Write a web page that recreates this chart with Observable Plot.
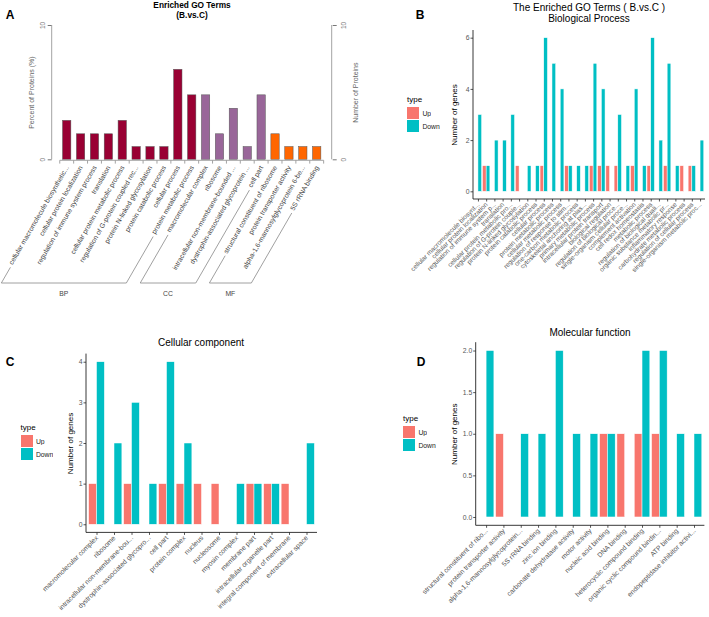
<!DOCTYPE html>
<html><head><meta charset="utf-8">
<script src="https://cdn.jsdelivr.net/npm/d3@7"></script>
<script src="https://cdn.jsdelivr.net/npm/@observablehq/plot@0.6"></script>
<style>
body{margin:0;background:#fff;}
#fig{position:relative;width:709px;height:617px;overflow:hidden;font-family:"Liberation Sans",Arial,Helvetica,sans-serif;}
.txt{position:absolute;transform:translate(-50%,-50%);white-space:nowrap;line-height:1;}
svg{overflow:visible;}
</style></head><body><div id="fig"></div>
<script>
// ---------- DATA ----------
const aTitle = ["Enriched GO Terms", "(B.vs.C)"];
const aTerms = [
  "cellular macromolecule biosynthetic...", "cellular protein localization",
  "regulation of immune system process", "translation",
  "cellular protein metabolic process", "regulation of G-protein coupled rec...",
  "protein N-linked glycosylation", "protein catabolic process",
  "cellular process", "protein metabolic process",
  "macromolecular complex", "ribosome", "intracellular non-membrane-bounded ...",
  "dystrophin-associated glycoprotein ...", "cell part",
  "structural constituent of ribosome", "protein transporter activity",
  "alpha-1,6-mannosylglycoprotein 6-be...", "5S rRNA binding"];
const aGroups = ["BP","BP","BP","BP","BP","BP","BP","BP","BP","BP","CC","CC","CC","CC","CC","MF","MF","MF","MF"];
const aPercent = [2.9,1.9,1.9,1.9,2.9,0.95,0.95,0.95,6.7,4.8, 4.8,1.9,3.8,0.95,4.8, 1.9,0.95,0.95,0.95];
const aGroupNames = ["BP","CC","MF"];
const aGroupColors = ["#990033","#996699","#FF6600"];
const aTicks = [0,10];
const aLeftLabel = "Percent of Proteins (%)";
const aRightLabel = "Number of Proteins";

const types = ["Up","Down"];
const typeColors = ["#F8766D","#00BFC4"];
const legendTitle = "type";
const yTitle = "Number of genes";

const bTitle = ["The Enriched GO Terms ( B.vs.C )", "Biological Process"];
const bTerms = [
  "cellular macromolecule biosynt...", "cellular protein localization", "regulation of immune system p...",
  "translation", "cellular protein metabolic pro...", "regulation of G-protein couple...",
  "protein N-linked glycosylation", "protein catabolic process", "cellular process",
  "protein metabolic process", "cellular metabolic process", "regulation of response to stim...",
  "one-carbon metabolic process", "cytoskeletal anchoring at plas...", "primary metabolic process",
  "intracellular protein transport", "biological regulation", "regulation of biological proce...",
  "single-organism cellular proce...", "complement activation", "cell redox homeostasis",
  "metabolic process", "regulation of biological quali...", "organic substance metabolic pr...",
  "inflammatory response", "carbohydrate metabolic process", "regulation of cellular process",
  "single-organism metabolic proc..."];
const bUp   = [0,1,0,0,0,1,0,0,1,0,0,1,0,0,1,1,1,1,0,1,0,1,0,1,0,1,1,0];
const bDown = [3,1,2,2,3,0,1,1,6,5,4,1,1,1,5,4,0,3,1,4,1,6,2,5,1,0,1,2];
const bTicks = [0,2,4,6];

const cTitle = "Cellular component";
const cTerms = ["macromolecular complex","ribosome","intracellular non-membrane-bou...",
  "dystrophin-associated glycopro...","cell part","protein complex","nucleus","nucleosome",
  "myosin complex","membrane part","intracellular organelle part",
  "integral component of membrane","extracellular space"];
const cUp   = [1,0,1,0,1,1,1,1,0,1,1,1,0];
const cDown = [4,2,3,1,4,2,0,0,1,1,1,0,2];
const cTicks = [0,1,2,3,4];

const dTitle = "Molecular function";
const dTerms = ["structural constituent of ribo...","protein transporter activity",
  "alpha-1,6-mannosylglycoprotein...","5S rRNA binding","zinc ion binding",
  "carbonate dehydratase activity","motor activity","nucleic acid binding","DNA binding",
  "heterocyclic compound binding","organic cyclic compound bindin...","ATP binding",
  "endopeptidase inhibitor activi..."];
const dUp   = [0,1,0,0,0,0,0,1,1,1,1,0,0];
const dDown = [2,0,1,1,2,1,1,1,0,2,2,1,1];
const dTicks = [0,0.5,1,1.5,2];

// ---------- HELPERS ----------
const FONT = '"Liberation Sans", Arial, Helvetica, sans-serif';
const fig = document.getElementById("fig");

function addText(str, x, y, size, weight, color) {
  const d = document.createElement("div");
  d.className = "txt";
  d.textContent = str;
  d.style.left = x + "px"; d.style.top = y + "px";
  d.style.fontSize = size + "px"; d.style.fontWeight = weight; d.style.color = color;
  fig.appendChild(d);
}
function place(el, left, top, w) {
  const d = document.createElement("div");
  d.style.cssText = `position:absolute;left:${left}px;top:${top}px;width:${w}px;`;
  d.appendChild(el);
  fig.appendChild(d);
}
function addLegend(left, top) {
  const d = document.createElement("div");
  d.style.cssText = `position:absolute;left:${left}px;top:${top}px;font-family:${FONT};`;
  const t = document.createElement("div");
  t.textContent = legendTitle;
  t.style.cssText = "font-size:8px;line-height:10px;height:12px;color:#000;";
  d.appendChild(t);
  try {
    const lg = Plot.legend({color: {domain: types, range: typeColors}, legend: "swatches",
      columns: 1, swatchSize: 12,
      style: {fontSize: "6.8px", fontFamily: FONT, margin: "0", color: "#222", minHeight: "0"}});
    d.appendChild(lg);
  } catch (e) { console.error(e); }
  fig.appendChild(d);
}

// ---------- PANEL A ----------
const aData = aTerms.map((t, i) => ({term: t, group: aGroups[i], value: aPercent[i]}));
const A = {w: 354, h: 300, ml: 51.7, mr: 22.3, mt: 25, mb: 140.7};
const plotA = Plot.plot({
  width: A.w, height: A.h, marginLeft: A.ml, marginRight: A.mr, marginTop: A.mt, marginBottom: A.mb,
  style: {background: "transparent", overflow: "visible", fontFamily: FONT, maxWidth: "none"},
  x: {domain: aTerms, paddingInner: 0.4, paddingOuter: 0.78, round: false, axis: null},
  y: {domain: [0, 10], axis: null},
  color: {domain: aGroupNames, range: aGroupColors},
  marks: [
    Plot.barY(aData, {x: "term", y: "value", fill: "group", stroke: "#555", strokeWidth: 0.5}),
    Plot.axisX({tickRotate: -60, tickSize: 0, tickPadding: 6.5, fontSize: 6.8, color: "#444", label: null}),
    Plot.axisY({anchor: "left", ticks: aTicks, tickSize: 4, tickPadding: 3, tickRotate: -90, fontSize: 6.5, color: "#777", label: null}),
    Plot.axisY({anchor: "left", ticks: [], label: aLeftLabel, labelAnchor: "center", labelArrow: false, labelOffset: 23.5, fontSize: 7, color: "#666"}),
    Plot.axisY({anchor: "right", ticks: aTicks, tickSize: 4, tickPadding: 5.5, tickRotate: -90, lineAnchor: "top", fontSize: 6.5, color: "#777", label: null}),
    Plot.axisY({anchor: "right", ticks: [], label: aRightLabel, labelAnchor: "center", labelArrow: false, labelOffset: 25.8, fontSize: 7, color: "#666"})
  ]
});
place(plotA, 0, 0, A.w);
(function decorateA() {
  const xs = plotA.scale("x"), ys = plotA.scale("y");
  const step = xs.apply(aTerms[1]) - xs.apply(aTerms[0]);
  const bw = xs.bandwidth ?? step * 0.6;
  const gap = (step - bw) / 2;
  const svg = d3.select(plotA);
  const g = svg.append("g").attr("stroke", "#999").attr("stroke-width", 0.9).attr("fill", "none");
  [A.ml, A.w - A.mr].forEach(x => g.append("line").attr("x1", x).attr("x2", x).attr("y1", ys.apply(0)).attr("y2", ys.apply(10)));
  const yb = ys.apply(0) + 1;
  const bounds = aTerms.map(t => xs.apply(t) - gap).concat([xs.apply(aTerms[aTerms.length - 1]) + bw + gap]);
  g.append("line").attr("x1", bounds[0]).attr("x2", bounds[bounds.length - 1]).attr("y1", yb).attr("y2", yb);
  bounds.forEach(x => g.append("line").attr("x1", x).attr("x2", x).attr("y1", yb).attr("y2", yb + 3.3));
  const svgRect = plotA.getBoundingClientRect();
  const texts = new Map(Array.from(plotA.querySelectorAll("text")).map(t => [t.textContent, t]));
  const yLine = 283, ux = Math.cos(Math.PI / 3), uy = Math.sin(Math.PI / 3);
  const gb = svg.append("g");
  aGroupNames.forEach(name => {
    const members = aTerms.filter((t, i) => aGroups[i] === name);
    const ends = [members[0], members[members.length - 1]].map(term => {
      const r = texts.get(term).getBoundingClientRect();
      const sx = r.left - svgRect.left + 4.5, sy = r.bottom - svgRect.top - 1.5;
      const gx = sx - 3 * ux, gy = sy + 3 * uy;
      const t = (yLine - gy) / uy;
      return {top: [gx, gy], bot: [gx - t * ux, yLine]};
    });
    gb.append("path").attr("fill", "none").attr("stroke", "#888").attr("stroke-width", 0.8)
      .attr("d", `M${ends[0].top}L${ends[0].bot}L${ends[1].bot}L${ends[1].top}`);
    gb.append("text").attr("x", (ends[0].bot[0] + ends[1].bot[0]) / 2).attr("y", yLine + 11)
      .attr("text-anchor", "middle").attr("dominant-baseline", "middle")
      .attr("font-size", 6.8).attr("fill", "#444").attr("font-family", FONT).text(name);
  });
})();
addText(aTitle[0], 192, 5, 8.3, "bold", "#000");
addText(aTitle[1], 192, 15, 8.3, "bold", "#000");
addText("A", 10, 15, 12, "bold", "#000");

// ---------- PANELS B, C, D ----------
function goBar(cfg) {
  const rows = [];
  cfg.terms.forEach((t, i) => {
    if (cfg.up[i] > 0) rows.push({term: t, type: "Up", n: cfg.up[i]});
    if (cfg.down[i] > 0) rows.push({term: t, type: "Down", n: cfg.down[i]});
  });
  const pi = 0.1, po = 0.15;
  const step = (cfg.w - cfg.ml - cfg.mr) / (cfg.terms.length - pi + 2 * po);
  const off = po * step;
  const p = Plot.plot({
    width: cfg.w, height: cfg.h, marginLeft: cfg.ml, marginRight: cfg.mr, marginTop: cfg.mt, marginBottom: cfg.mb,
    style: {background: "transparent", overflow: "visible", fontFamily: FONT, maxWidth: "none"},
    fx: {domain: cfg.terms, paddingInner: pi, paddingOuter: po, round: false, label: null},
    x: {domain: types, padding: 0, round: false, axis: null},
    y: {domain: cfg.yDomain, axis: null},
    color: {domain: types, range: typeColors},
    marks: [
      Plot.barY(rows, {fx: "term", x: "type", y: "n", fill: "type", stroke: "white", strokeWidth: 0.5}),
      Plot.axisFx({anchor: "bottom", tickRotate: -45, tickSize: 2.5, tickPadding: 1.5, fontSize: cfg.fsx, color: "#555", label: null}),
      Plot.axisY({ticks: cfg.ticks, tickFormat: cfg.fmt, tickSize: 2.5, tickPadding: 1.5, fontSize: 6.8, color: "#555", dx: -off, label: null}),
      Plot.axisY({ticks: [], label: yTitle, labelAnchor: "center", labelArrow: false, labelOffset: cfg.lo, fontSize: 8, color: "#000", dx: -off})
    ]
  });
  const svg = d3.select(p);
  const g = svg.append("g").attr("stroke", "#222").attr("stroke-width", 0.9);
  const bottom = cfg.h - cfg.mb;
  g.append("line").attr("x1", cfg.ml).attr("x2", cfg.ml).attr("y1", cfg.mt).attr("y2", bottom);
  g.append("line").attr("x1", cfg.ml).attr("x2", cfg.w - cfg.mr).attr("y1", bottom).attr("y2", bottom);
  place(p, cfg.left, cfg.top, cfg.w);
}

goBar({terms: bTerms, up: bUp, down: bDown, ticks: bTicks, fmt: d3.format("d"), yDomain: [-0.3, 6.3],
  w: 355, h: 300, ml: 119, mr: 4, mt: 30, mb: 101, left: 354, top: 0, fsx: 6.5, lo: 23.5});
goBar({terms: cTerms, up: cUp, down: cDown, ticks: cTicks, fmt: d3.format("d"), yDomain: [-0.2, 4.2],
  w: 354, h: 287, ml: 86, mr: 37, mt: 23.6, mb: 84.6, left: 0, top: 330, fsx: 6.8, lo: 21.5});
goBar({terms: dTerms, up: dUp, down: dDown, ticks: dTicks, fmt: d3.format(".1f"), yDomain: [-0.1, 2.1],
  w: 355, h: 287, ml: 121.7, mr: 4.6, mt: 12.2, mb: 91.7, left: 354, top: 330, fsx: 6.8, lo: 27.2});

addText(bTitle[0], 589, 7.5, 10, "normal", "#000");
addText(bTitle[1], 589, 18.5, 10, "normal", "#000");
addText("B", 420, 15, 12, "bold", "#000");
addText(cTitle, 201, 343, 10, "normal", "#000");
addText("C", 10, 362, 12, "bold", "#000");
addText(dTitle, 590, 333, 10, "normal", "#000");
addText("D", 421, 362, 12, "bold", "#000");

addLegend(407, 95);
addLegend(20.5, 423);
addLegend(403, 414);
</script></body></html>
